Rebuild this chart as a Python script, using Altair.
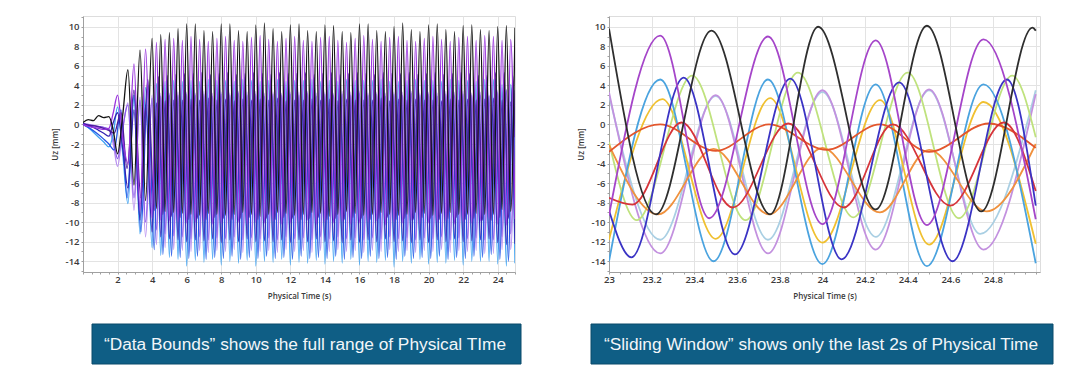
import altair as alt
import pandas as pd

# ---------------- LEFT PANEL: "Data Bounds" (0 - 25 s) ----------------
# extreme times shared by the in-phase lines
LEFT_T = [0.0, 0.3, 0.6, 0.9, 1.2, 1.5, 1.75, 2.0, 2.3, 2.6, 2.95, 3.3, 3.62,
          4.0, 4.25, 4.5, 4.75, 5.0, 5.25, 5.5, 5.75,
          6.0, 6.25, 6.5, 6.75, 7.0, 7.25, 7.5, 7.75,
          8.0, 8.25, 8.5, 8.75, 9.0, 9.25, 9.5, 9.75,
          10.0, 10.25, 10.5, 10.75, 11.0, 11.25, 11.5, 11.75,
          12.0, 12.25, 12.5, 12.75, 13.0, 13.25, 13.5, 13.75,
          14.0, 14.25, 14.5, 14.75, 15.0, 15.25, 15.5, 15.75,
          16.0, 16.25, 16.5, 16.75, 17.0, 17.25, 17.5, 17.75,
          18.0, 18.25, 18.5, 18.75, 19.0, 19.25, 19.5, 19.75,
          20.0, 20.25, 20.5, 20.75, 21.0, 21.25, 21.5, 21.75,
          22.0, 22.25, 22.5, 22.75, 23.0, 23.25, 23.5, 23.75,
          24.0, 24.25, 24.5, 24.75, 25.0]

# extreme times of the quarter-period shifted lines
LEFT_TC = [0.0, 0.4, 0.8, 1.2, 1.5, 1.8, 2.2, 2.55, 2.95, 3.35, 3.75,
           4.125, 4.375, 4.625, 4.875, 5.125, 5.375, 5.625, 5.875,
           6.125, 6.375, 6.625, 6.875, 7.125, 7.375, 7.625, 7.875,
           8.125, 8.375, 8.625, 8.875, 9.125, 9.375, 9.625, 9.875,
           10.125, 10.375, 10.625, 10.875, 11.125, 11.375, 11.625, 11.875,
           12.125, 12.375, 12.625, 12.875, 13.125, 13.375, 13.625, 13.875,
           14.125, 14.375, 14.625, 14.875, 15.125, 15.375, 15.625, 15.875,
           16.125, 16.375, 16.625, 16.875, 17.125, 17.375, 17.625, 17.875,
           18.125, 18.375, 18.625, 18.875, 19.125, 19.375, 19.625, 19.875,
           20.125, 20.375, 20.625, 20.875, 21.125, 21.375, 21.625, 21.875,
           22.125, 22.375, 22.625, 22.875, 23.125, 23.375, 23.625, 23.875,
           24.125, 24.375, 24.625, 24.875, 25.0]

LEFT_BLACK = [0.2, 0.5, 0.4, 0.9, 0.7, 0.8, -0.6, -3.0, 1.0, 5.6, -6.2, 7.6, -7.8,
              8.8, -8.6, 9.2, -8.9, 9.4, -9.0, 9.8, -9.1,
              10.3, -9.2, 10.3, -9.3, 9.6, -9.1, 9.5, -9.2,
              10.3, -9.3, 10.3, -9.2, 9.6, -9.0, 9.5, -9.2,
              10.2, -9.4, 10.4, -9.2, 9.8, -9.0, 9.5, -9.1,
              10.2, -9.3, 10.3, -9.2, 9.6, -9.0, 9.5, -9.1,
              10.2, -9.4, 10.1, -9.2, 9.5, -8.9, 9.4, -9.1,
              10.3, -9.3, 10.3, -9.2, 9.6, -9.0, 9.5, -9.2,
              10.0, -9.3, 10.4, -9.2, 9.7, -9.0, 9.5, -9.1,
              10.2, -9.3, 10.3, -9.1, 9.7, -9.0, 9.5, -9.2,
              10.1, -9.2, 10.2, -9.1, 9.7, -9.2, 9.6, -9.2,
              10.0, -8.7, 10.1, -8.9, 9.9]

LEFT_PURPLE = [0.0, -0.2, -0.3, -0.4, -0.5, -0.4, 1.2, 3.0, -1.5, -4.0, 6.2, -8.8, 7.7,
               -9.6, 8.4, -9.8, 8.7, -9.9, 8.8, -10.0, 8.6,
               -10.1, 9.0, -10.0, 8.7, -9.9, 8.5, -10.2, 8.8,
               -10.1, 9.0, -9.9, 8.6, -10.0, 8.5, -10.2, 8.9,
               -10.0, 9.1, -10.1, 8.7, -9.9, 8.5, -10.2, 8.8,
               -10.1, 9.0, -10.0, 8.6, -9.8, 8.5, -10.2, 8.9,
               -10.0, 9.0, -10.1, 8.6, -9.9, 8.4, -10.2, 8.8,
               -10.1, 9.1, -10.0, 8.7, -9.9, 8.5, -10.3, 8.9,
               -10.0, 9.0, -10.1, 8.6, -9.8, 8.5, -10.2, 8.8,
               -10.1, 9.0, -10.0, 8.7, -9.9, 8.5, -10.2, 8.9,
               -10.0, 9.0, -10.1, 8.6, -9.9, 9.1, -9.6, 9.0,
               -10.2, 8.6, -10.3, 8.7, -9.7]

LEFT_LIGHTBLUE = [0.0, -0.3, -0.8, -1.3, -1.8, -2.3, -1.0, 1.8, -3.0, -8.1, 3.0, -11.2, 3.8,
                  -12.6, 4.2, -13.4, 4.4, -13.6, 4.5, -13.8, 4.4,
                  -14.5, 4.5, -13.9, 4.4, -14.1, 4.6, -13.8, 4.5,
                  -14.4, 4.5, -14.0, 4.4, -14.2, 4.6, -13.9, 4.5,
                  -14.5, 4.4, -14.0, 4.5, -14.1, 4.6, -13.8, 4.4,
                  -14.4, 4.5, -14.1, 4.5, -14.2, 4.6, -13.9, 4.4,
                  -14.3, 4.5, -14.0, 4.4, -14.2, 4.6, -13.8, 4.5,
                  -14.4, 4.5, -14.0, 4.5, -14.1, 4.6, -13.9, 4.4,
                  -14.6, 4.4, -14.0, 4.5, -14.2, 4.6, -13.8, 4.5,
                  -14.3, 4.5, -14.1, 4.4, -14.2, 4.6, -13.9, 4.5,
                  -14.4, 4.5, -14.0, 4.4, -14.0, 4.6, -14.0, 4.6,
                  -14.3, 4.1, -14.5, 4.1, -14.2]

LEFT_INDIGO = [0.1, -0.1, -0.3, -0.6, -0.9, -1.2, 0.2, 1.2, -2.5, -6.5, 1.5, -9.8, 2.0,
               -11.0, 2.2, -11.5, 2.4, -11.7, 2.5, -11.8, 2.5,
               -12.0, 2.6, -11.8, 2.5, -11.9, 2.7, -11.7, 2.5,
               -12.1, 2.6, -11.8, 2.4, -12.0, 2.6, -11.7, 2.5,
               -12.0, 2.6, -11.9, 2.5, -12.0, 2.7, -11.8, 2.4,
               -12.1, 2.5, -11.8, 2.5, -12.0, 2.6, -11.7, 2.5,
               -12.0, 2.6, -11.9, 2.4, -12.1, 2.6, -11.8, 2.5,
               -12.1, 2.5, -11.8, 2.5, -12.0, 2.7, -11.7, 2.4,
               -12.0, 2.6, -11.9, 2.5, -12.1, 2.6, -11.8, 2.5,
               -12.1, 2.5, -11.8, 2.4, -12.0, 2.6, -11.7, 2.5,
               -12.0, 2.6, -11.9, 2.5, -11.8, 2.6, -11.7, 2.7,
               -12.1, 2.5, -12.3, 2.3, -12.2]

LEFT_LAVENDER = [0.0, -0.1, -0.2, -0.3, -0.4, -0.6, -2.0, -4.3, -0.5, 2.2, -8.8, 2.8, -11.5,
                 3.0, -12.3, 3.2, -12.6, 3.2, -12.8, 3.3, -12.9,
                 3.3, -13.0, 3.2, -12.9, 3.4, -13.1, 3.2, -12.9,
                 3.3, -13.0, 3.2, -12.8, 3.4, -13.1, 3.3, -12.9,
                 3.4, -13.0, 3.2, -12.9, 3.3, -13.1, 3.2, -12.8,
                 3.3, -13.0, 3.3, -12.9, 3.4, -13.1, 3.2, -12.9,
                 3.3, -13.0, 3.2, -12.8, 3.4, -13.0, 3.3, -12.9,
                 3.4, -13.1, 3.2, -12.9, 3.3, -13.0, 3.2, -12.8,
                 3.3, -13.0, 3.3, -12.9, 3.4, -13.1, 3.2, -12.9,
                 3.3, -13.0, 3.2, -12.8, 3.4, -13.1, 3.3, -12.9,
                 3.4, -13.0, 3.2, -12.9, 3.3, -13.2, 3.0, -13.2,
                 3.5, -12.8, 3.6, -12.8, 3.2]

LEFT_VIOLET = [0.1, 0.0, -0.1, -0.2, -0.3, -0.5, -1.5, -3.5, -0.3, 2.0, -7.5, 2.5, -10.0,
               2.7, -10.8, 2.9, -11.2, 3.0, -11.4, 3.0, -11.5,
               3.1, -11.7, 3.0, -11.5, 3.1, -11.8, 2.9, -11.6,
               3.1, -11.7, 3.0, -11.5, 3.2, -11.8, 3.0, -11.6,
               3.1, -11.7, 2.9, -11.6, 3.1, -11.8, 3.0, -11.5,
               3.1, -11.7, 3.0, -11.6, 3.2, -11.8, 2.9, -11.5,
               3.1, -11.7, 3.0, -11.5, 3.1, -11.7, 3.0, -11.6,
               3.2, -11.8, 3.0, -11.6, 3.1, -11.7, 2.9, -11.5,
               3.1, -11.7, 3.0, -11.6, 3.2, -11.8, 3.0, -11.6,
               3.1, -11.7, 2.9, -11.5, 3.1, -11.8, 3.0, -11.6,
               3.1, -11.7, 3.0, -11.6, 3.0, -11.8, 2.9, -11.8,
               3.3, -11.5, 3.5, -11.2, 3.5]

LEFT_BLUE = [0.0, -0.4, -0.9, -1.5, -2.0, -2.6, 1.5, -7.5, 3.0, -11.0, 4.0,
             -12.8, 4.4, -13.3, 4.5, -13.5, 4.6, -13.6, 4.7,
             -13.7, 4.8, -13.5, 4.6, -13.8, 4.7, -13.6, 4.8,
             -13.7, 4.7, -13.5, 4.6, -13.8, 4.8, -13.6, 4.7,
             -13.7, 4.8, -13.5, 4.6, -13.7, 4.7, -13.6, 4.8,
             -13.8, 4.7, -13.5, 4.6, -13.7, 4.8, -13.6, 4.7,
             -13.7, 4.8, -13.5, 4.6, -13.8, 4.7, -13.6, 4.8,
             -13.7, 4.7, -13.5, 4.6, -13.7, 4.8, -13.6, 4.7,
             -13.8, 4.8, -13.5, 4.6, -13.7, 4.7, -13.6, 4.8,
             -13.7, 4.7, -13.5, 4.6, -13.8, 4.8, -13.6, 4.7,
             -13.7, 4.8, -13.5, 4.6, -13.6, 4.8, -13.3, 4.7,
             -13.8, 4.3, -14.0, 4.6, -8.3]

LEFT_DARKPURPLE = [0.0, -0.1, -0.2, -0.4, -0.6, -0.9, 1.2, -4.5, 3.5, -7.5, 4.6,
                   -8.8, 4.9, -9.2, 5.0, -9.4, 5.1, -9.5, 5.2,
                   -9.7, 5.2, -9.6, 5.3, -9.7, 5.1, -9.5, 5.2,
                   -9.6, 5.3, -9.7, 5.1, -9.6, 5.2, -9.5, 5.3,
                   -9.7, 5.2, -9.6, 5.1, -9.7, 5.3, -9.5, 5.2,
                   -9.6, 5.2, -9.7, 5.3, -9.6, 5.1, -9.5, 5.2,
                   -9.7, 5.3, -9.6, 5.1, -9.7, 5.2, -9.5, 5.3,
                   -9.6, 5.2, -9.7, 5.1, -9.6, 5.3, -9.5, 5.2,
                   -9.7, 5.2, -9.6, 5.3, -9.7, 5.1, -9.5, 5.2,
                   -9.6, 5.3, -9.7, 5.1, -9.6, 5.2, -9.5, 5.3,
                   -9.7, 5.2, -9.6, 5.0, -9.8, 5.0, -9.8, 5.3,
                   -9.5, 5.3, -9.6, 5.0, -1.3]

# ---------------- RIGHT PANEL: "Sliding Window" (23 - 25 s) ----------------
R_BLACK_T = [23.0, 23.22, 23.48, 23.755, 23.98, 24.25, 24.49, 24.745, 24.985, 25.0]
R_BLACK_V = [9.8, -9.2, 9.6, -9.2, 10.0, -8.7, 10.1, -8.9, 9.9, 9.6]
R_PURPLE_T = [23.0, 23.24, 23.47, 23.745, 24.0, 24.25, 24.49, 24.755, 25.0]
R_PURPLE_V = [-9.3, 9.1, -9.6, 9.0, -10.2, 8.6, -10.3, 8.7, -9.7]
R_LIGHTBLUE_T = [23.0, 23.24, 23.49, 23.745, 24.0, 24.25, 24.49, 24.755, 25.0]
R_LIGHTBLUE_V = [-14.0, 4.6, -14.0, 4.6, -14.3, 4.1, -14.5, 4.1, -14.2]
R_YELLOW_T = [23.0, 23.25, 23.5, 23.755, 24.0, 24.27, 24.5, 24.755, 25.0]
R_YELLOW_V = [-11.8, 2.6, -11.7, 2.7, -12.1, 2.5, -12.3, 2.3, -12.2]
R_LAVENDER_T = [23.0, 23.24, 23.5, 23.745, 24.0, 24.25, 24.5, 24.755, 25.0]
R_LAVENDER_V = [3.3, -13.2, 3.0, -13.2, 3.5, -12.8, 3.6, -12.8, 3.1]
R_PALE_T = [23.0, 23.24, 23.5, 23.745, 24.0, 24.25, 24.5, 24.74, 25.0]
R_PALE_V = [3.0, -11.8, 2.9, -11.8, 3.3, -11.5, 3.5, -11.2, 3.5]
R_GREEN_T = [23.0, 23.13, 23.39, 23.64, 23.885, 24.145, 24.4, 24.64, 24.89, 25.0]
R_GREEN_V = [-1.8, -9.8, 5.0, -9.8, 5.3, -9.5, 5.3, -9.6, 5.0, -1.3]
R_DARKBLUE_T = [23.0, 23.105, 23.35, 23.59, 23.85, 24.09, 24.36, 24.61, 24.865, 25.0]
R_DARKBLUE_V = [-8.8, -13.6, 4.8, -13.3, 4.7, -13.8, 4.3, -14.0, 4.6, -8.3]
R_RED_T = [23.0, 23.11, 23.34, 23.58, 23.84, 24.1, 24.33, 24.6, 24.85, 25.0]
R_RED_V = [-7.5, -8.2, 0.2, -8.5, 0.1, -8.5, 0.0, -8.3, 0.2, -6.8]
R_ORANGE_T = [23.0, 23.23, 23.49, 23.75, 24.0, 24.27, 24.5, 24.77, 25.0]
R_ORANGE_V = [-2.1, -9.2, -2.5, -9.2, -2.4, -9.0, -2.6, -8.9, -2.0]
R_REDORANGE_T = [23.0, 23.24, 23.5, 23.75, 24.02, 24.27, 24.5, 24.78, 25.0]
R_REDORANGE_V = [-2.8, 0.0, -2.7, 0.0, -2.6, 0.0, -2.8, 0.1, -2.4]

# ticks and captions
Y_TICKS = list(range(-15, 12))
LEFT_X_TICKS = [i / 2 for i in range(0, 51)]
RIGHT_X_TICKS = [round(23 + i * 0.05, 2) for i in range(0, 41)]
LEFT_CAPTION = "\u201cData Bounds\u201d shows the full range of Physical TIme"
RIGHT_CAPTION = "\u201cSliding Window\u201d shows only the last 2s of Physical Time"


def build(series):
    rows = []
    for name, ts, vs in series:
        if len(ts) != len(vs):
            raise ValueError(f"{name}: {len(ts)} times vs {len(vs)} values")
        rows += [{"s": name, "t": t, "v": v} for t, v in zip(ts, vs)]
    return pd.DataFrame(rows)


left_series = [
    ("l01", LEFT_T, LEFT_LAVENDER, "#b68cf0"),
    ("l02", LEFT_T, LEFT_VIOLET, "#8a5ae6"),
    ("l03", LEFT_T, LEFT_LIGHTBLUE, "#3fa2f2"),
    ("l04", LEFT_TC, LEFT_BLUE, "#2456e6"),
    ("l05", LEFT_T, LEFT_INDIGO, "#3420b0"),
    ("l06", LEFT_TC, LEFT_DARKPURPLE, "#4b1c98"),
    ("l07", LEFT_T, LEFT_PURPLE, "#9933dd"),
    ("l08", LEFT_T, LEFT_BLACK, "#141414"),
]
right_series = [
    ("r01", R_PALE_T, R_PALE_V, "#a9cfe3"),
    ("r02", R_LAVENDER_T, R_LAVENDER_V, "#c391df"),
    ("r03", R_YELLOW_T, R_YELLOW_V, "#f0c030"),
    ("r04", R_GREEN_T, R_GREEN_V, "#bfe27d"),
    ("r05", R_LIGHTBLUE_T, R_LIGHTBLUE_V, "#4aa3df"),
    ("r06", R_ORANGE_T, R_ORANGE_V, "#f0913d"),
    ("r07", R_REDORANGE_T, R_REDORANGE_V, "#e3562c"),
    ("r08", R_RED_T, R_RED_V, "#d6343a"),
    ("r09", R_DARKBLUE_T, R_DARKBLUE_V, "#3a33c4"),
    ("r10", R_PURPLE_T, R_PURPLE_V, "#a545c9"),
    ("r11", R_BLACK_T, R_BLACK_V, "#2e2e2e"),
]

df_left = build([(n, t, v) for n, t, v, _ in left_series])
df_right = build([(n, t, v) for n, t, v, _ in right_series])

FONT = "Open Sans"
TXT = "#3a3a3a"
AX = "#a0a0a0"
GRID = "#e3e3e3"


def y_axis():
    return alt.Axis(
        values=Y_TICKS,
        labelExpr="datum.value % 2 == 0 ? '' + datum.value : ''",
        gridOpacity={"condition": {"test": "datum.value % 2 == 0", "value": 1}, "value": 0},
        gridColor=GRID, tickSize=2, tickColor=AX, domainColor=AX,
        labelFont=FONT, labelFontSize=9.5, labelFontWeight=600, labelColor=TXT,
        labelPadding=2, labelOverlap=False, title="Uz [mm]",
        titleFont=FONT, titleFontSize=8, titleFontWeight=600, titleColor=TXT,
        titlePadding=6,
    )


def x_axis(values, major_test, label_test):
    return alt.Axis(
        values=values,
        labelExpr=f"({label_test}) ? '' + datum.value : ''",
        gridOpacity={"condition": {"test": major_test, "value": 1}, "value": 0},
        gridColor=GRID, tickSize=2, tickColor=AX, domainColor=AX,
        labelFont=FONT, labelFontSize=9.5, labelFontWeight=600, labelColor=TXT,
        labelPadding=0, labelOverlap=False, labelFlush=False,
        title="Physical Time (s)", titleFont=FONT, titleFontSize=8,
        titleFontWeight=600, titleColor=TXT, titlePadding=9,
    )


def panel(df, series, xdomain, width, xaxis, sw, caption, rx1, rx2, tx):
    lines = alt.Chart(df).mark_line(interpolate="monotone", strokeWidth=sw, clip=True).encode(
        x=alt.X("t:Q", scale=alt.Scale(domain=xdomain, nice=False, zero=False), axis=xaxis),
        y=alt.Y("v:Q", scale=alt.Scale(domain=[-15.1, 11.1], nice=False, zero=False), axis=y_axis()),
        color=alt.Color("s:N", scale=alt.Scale(domain=[s[0] for s in series],
                                               range=[s[3] for s in series]), legend=None),
    )
    cap_df = pd.DataFrame({"label": [caption]})
    box = alt.Chart(cap_df).mark_rect(color="#0f5e85", stroke="#0b4a6a", strokeWidth=1).encode(
        x=alt.value(rx1), x2=alt.value(rx2), y=alt.value(308), y2=alt.value(348))
    txt = alt.Chart(cap_df).mark_text(font="Liberation Sans", fontSize=17.3, color="#f2f6f9",
                                      align="center", baseline="middle").encode(
        x=alt.value(tx), y=alt.value(329), text="label:N")
    return alt.layer(lines, box, txt).properties(width=width, height=256)


left = panel(
    df_left, left_series, [0, 25], 432,
    x_axis(LEFT_X_TICKS, "datum.value % 2 == 0",
           "datum.value % 2 == 0 && datum.value > 0 && datum.value < 25"),
    1.3, LEFT_CAPTION, 9, 438, 222,
)
right = panel(
    df_right, right_series, [23, 25.02], 431,
    x_axis(RIGHT_X_TICKS, "abs(datum.value * 5 - round(datum.value * 5)) < 0.001",
           "abs(datum.value * 5 - round(datum.value * 5)) < 0.001 && datum.value < 24.99"),
    1.8, RIGHT_CAPTION, -18, 444, 212,
)

chart = alt.hconcat(left, right, spacing=54).resolve_scale(color="independent").properties(
    padding={"left": 42, "top": 3, "right": 0, "bottom": 0}
).configure_view(stroke=None).configure(background="white")

chart.save("out.html", embed_options={"renderer": "svg", "actions": False})
